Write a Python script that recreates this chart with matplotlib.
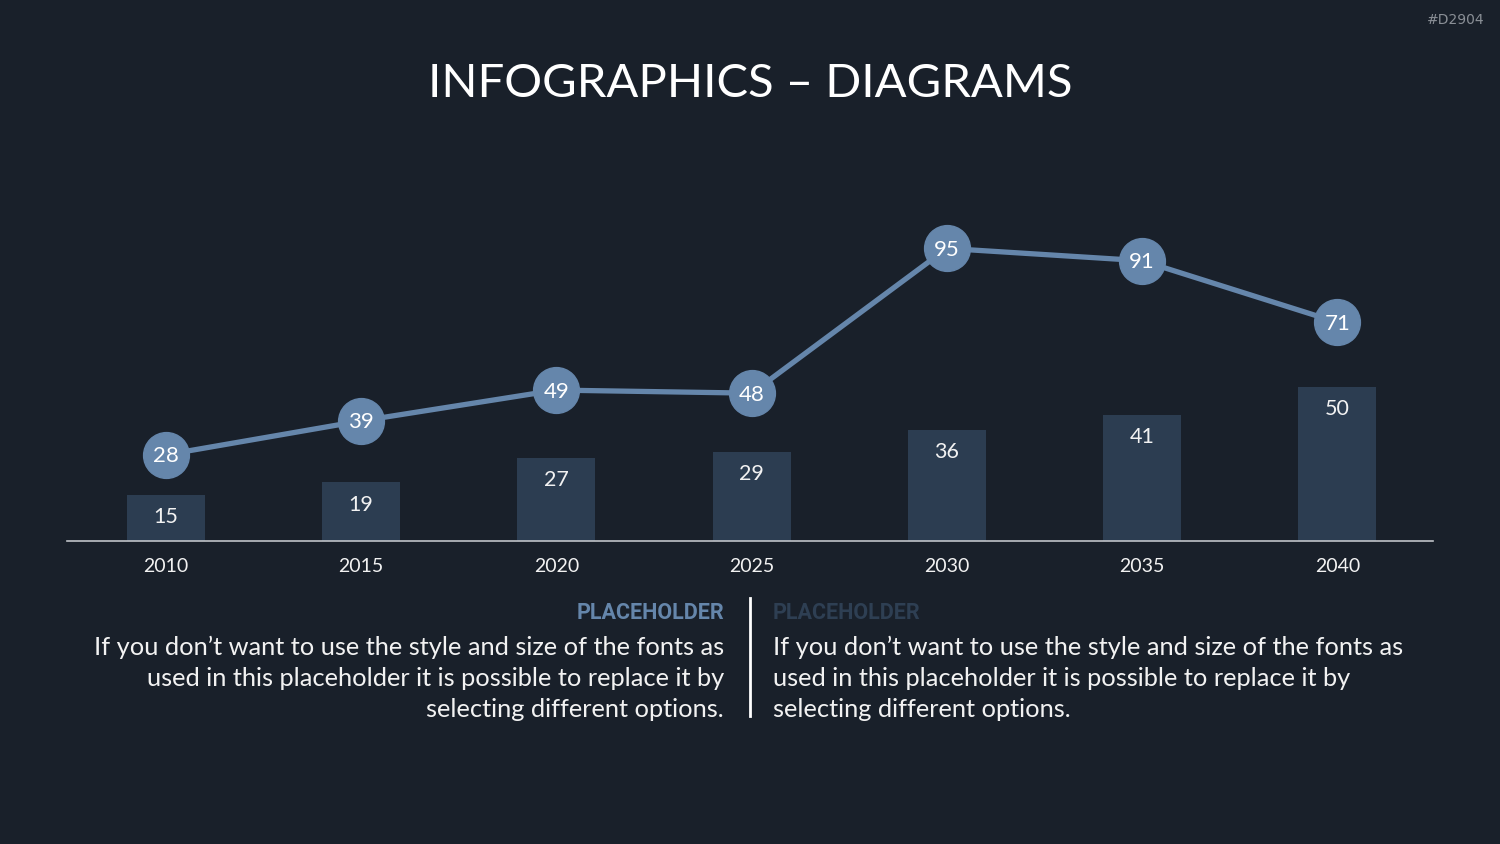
import matplotlib.pyplot as plt

years = ["2010", "2015", "2020", "2025", "2030", "2035", "2040"]
bar_values = [15, 19, 27, 29, 36, 41, 50]
line_values = [28, 39, 49, 48, 95, 91, 71]

BG = "#19202a"
BAR = "#2c3d51"
LINE = "#6586ab"
TEXT = "#f2f2f2"

body = ("If you don\u2019t want to use the style and size of the fonts as\n"
        "used in this placeholder it is possible to replace it by\n"
        "selecting different options.")

fig = plt.figure(figsize=(15, 8.44), dpi=100)
fig.set_facecolor(BG)

ax = fig.add_axes([67 / 1500, 303 / 844, 1366 / 1500, 308 / 844])
ax.set_facecolor(BG)
x = list(range(len(years)))

ax.bar(x, bar_values, width=0.4, color=BAR, zorder=1)
for xi, v in zip(x, bar_values):
    ax.text(xi, v - 7.2, str(v), ha="center", va="center",
            color=TEXT, fontsize=15.5, family="Lato", zorder=3)

ax.plot(x, line_values, color=LINE, lw=3.8, marker="o", ms=33,
        markerfacecolor=LINE, markeredgecolor=LINE, zorder=2, clip_on=False)
for xi, v in zip(x, line_values):
    ax.text(xi, v - 0.5, str(v), ha="center", va="center",
            color="white", fontsize=16, family="Lato", zorder=4)

ax.set_xlim(-0.507, 6.49)
ax.set_ylim(0, 100)
ax.set_xticks(x)
ax.set_xticklabels(years, color=TEXT, fontsize=14, family="Lato")
ax.tick_params(axis="x", length=0, pad=12)
ax.set_yticks([])
for side in ["top", "right", "left"]:
    ax.spines[side].set_visible(False)
ax.spines["bottom"].set_color("#bfc3c8")
ax.spines["bottom"].set_linewidth(1.2)

fig.text(0.5, 1 - 84 / 844, "INFOGRAPHICS \u2013 DIAGRAMS", ha="center",
         va="center", color="white", fontsize=34, family="Lato")
fig.text(1485 / 1500, 1 - 20 / 844, "#D2904", ha="right", va="center",
         color="#8a8f96", fontsize=10, family="DejaVu Sans")

fig.text(724 / 1500, 1 - 613 / 844, "PLACEHOLDER", ha="right", va="center",
         color=LINE, fontsize=15.5, family="Roboto", fontweight="bold")
fig.text(773 / 1500, 1 - 613 / 844, "PLACEHOLDER", ha="left", va="center",
         color="#2e3f53", fontsize=15.5, family="Roboto", fontweight="bold")

fig.text(724 / 1500, 1 - 636 / 844, body, ha="right", va="top",
         color=TEXT, fontsize=18.3, family="Lato", linespacing=1.4,
         multialignment="right")
fig.text(773 / 1500, 1 - 636 / 844, body, ha="left", va="top",
         color=TEXT, fontsize=18.3, family="Lato", linespacing=1.4,
         multialignment="left")

fig.add_artist(plt.Line2D([750 / 1500, 750 / 1500], [1 - 598 / 844, 1 - 716 / 844],
                          color="white", lw=2))

fig.savefig("out.png", dpi=100, facecolor=BG)
